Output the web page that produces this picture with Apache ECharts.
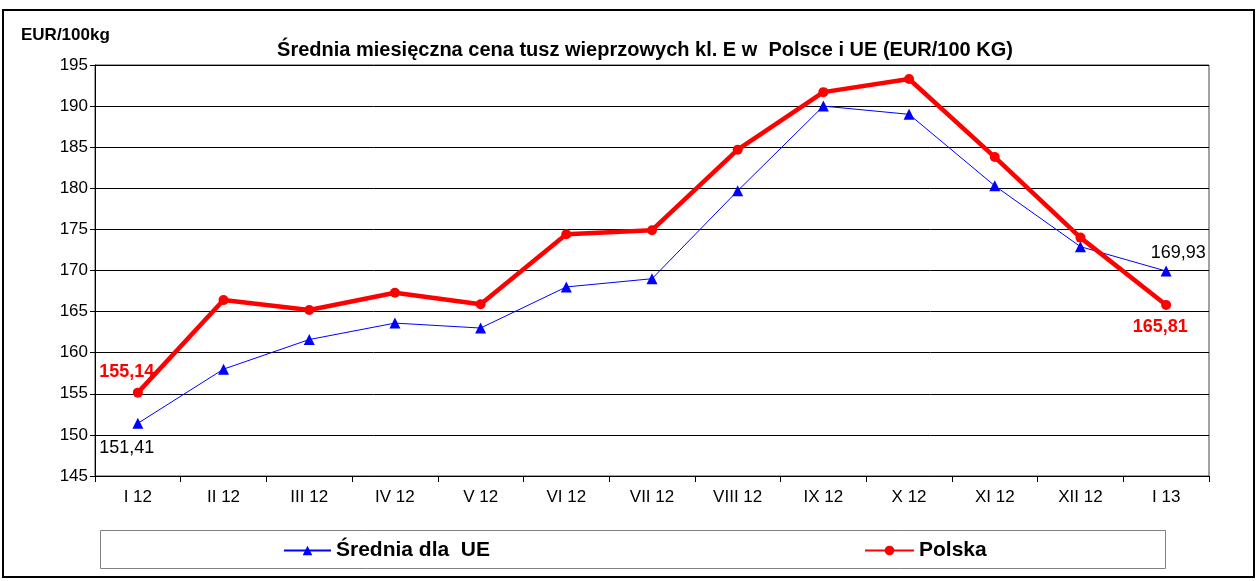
<!DOCTYPE html>
<html>
<head>
<meta charset="utf-8">
<script src="https://cdn.jsdelivr.net/npm/echarts@6/dist/echarts.min.js"></script>
<style>
  html, body { margin: 0; padding: 0; background: #fff; }
  #chart { width: 1258px; height: 581px; }
</style>
</head>
<body>
<div id="chart"></div>
<script>
const categories = ['I 12', 'II 12', 'III 12', 'IV 12', 'V 12', 'VI 12', 'VII 12', 'VIII 12', 'IX 12', 'X 12', 'XI 12', 'XII 12', 'I 13'];
const ueValues = [151.41, 158.0, 161.6, 163.6, 163.0, 168.0, 169.0, 179.7, 190.0, 189.0, 180.3, 172.9, 169.93];
const plValues = [155.14, 166.4, 165.2, 167.3, 165.9, 174.4, 174.9, 184.7, 191.7, 193.3, 183.8, 174.0, 165.81];
const yTicks = { min: 145, max: 195, interval: 5 };
const ueName = 'Średnia dla  UE';
const plName = 'Polska';
const titleText = 'Średnia miesięczna cena tusz wieprzowych kl. E w  Polsce i UE (EUR/100 KG)';
const unitText = 'EUR/100kg';

const FONT = 'Arial, "Liberation Sans", sans-serif';
const fmt = v => v.toFixed(2).replace('.', ',');
const last = categories.length - 1;

function withLabels(values, firstLabel, lastLabel) {
  return values.map((v, i) => {
    if (i === 0) return { value: v, label: firstLabel };
    if (i === last) return { value: v, label: lastLabel };
    return v;
  });
}

const ueLabelBase = { show: true, color: '#000', fontSize: 18, fontFamily: FONT, formatter: p => fmt(p.value) };
const plLabelBase = { show: true, color: '#ff0000', fontSize: 18, fontWeight: 'bold', fontFamily: FONT, formatter: p => fmt(p.value) };

const chart = echarts.init(document.getElementById('chart'), null, { renderer: 'canvas' });
chart.setOption({
  backgroundColor: '#fff',
  animation: false,
  title: {
    text: titleText,
    left: 640, top: 35, textAlign: 'center',
    textStyle: { fontSize: 20, fontWeight: 'bold', color: '#000', fontFamily: FONT }
  },
  graphic: [
    { type: 'rect', shape: { x: 3, y: 10, width: 1251, height: 567 }, style: { fill: 'none', stroke: '#000', lineWidth: 2 }, z: -1 },
    { type: 'rect', shape: { x: 100.5, y: 530.5, width: 1065, height: 38 }, style: { fill: 'none', stroke: '#808080', lineWidth: 1 }, z: -1 },
    { type: 'text', left: 21, top: 27, style: { text: unitText, font: 'bold 17px ' + FONT, fill: '#000' } }
  ],
  legend: [
    { data: [ueName], left: 283, top: 540, padding: 0, itemWidth: 47, itemHeight: 12, itemGap: 5,
      textStyle: { fontSize: 21, fontWeight: 'bold', color: '#000', fontFamily: FONT } },
    { data: [plName], left: 864, top: 540, padding: 0, itemWidth: 49, itemHeight: 12, itemGap: 5,
      textStyle: { fontSize: 21, fontWeight: 'bold', color: '#000', fontFamily: FONT } }
  ],
  grid: { left: 95, top: 65, right: 49, bottom: 105, show: true, borderColor: '#444', borderWidth: 1 },
  xAxis: {
    type: 'category', data: categories, boundaryGap: true,
    axisLine: { lineStyle: { color: '#000', width: 1 } },
    axisTick: { show: true, length: 6, lineStyle: { color: '#000' } },
    axisLabel: { color: '#000', fontSize: 17, fontFamily: FONT, margin: 13 },
    splitLine: { show: false }
  },
  yAxis: {
    type: 'value', min: yTicks.min, max: yTicks.max, interval: yTicks.interval,
    axisLine: { show: true, lineStyle: { color: '#000', width: 1 } },
    axisTick: { show: true, length: 5, lineStyle: { color: '#000' } },
    axisLabel: { color: '#000', fontSize: 17, fontFamily: FONT, margin: 7 },
    splitLine: { show: true, lineStyle: { color: '#000', width: 1 } }
  },
  series: [
    {
      name: ueName, type: 'line',
      data: withLabels(ueValues,
        Object.assign({}, ueLabelBase, { position: 'bottom', distance: 10, offset: [-11, 0] }),
        Object.assign({}, ueLabelBase, { position: 'top', distance: 4, offset: [12, 0] })),
      symbol: 'triangle', symbolSize: 11,
      lineStyle: { color: '#0000ff', width: 1 },
      itemStyle: { color: '#0000ff' },
      z: 2
    },
    {
      name: plName, type: 'line',
      data: withLabels(plValues,
        Object.assign({}, plLabelBase, { position: 'top', distance: 7, offset: [-11, 0] }),
        Object.assign({}, plLabelBase, { position: 'bottom', distance: 8, offset: [-6, 0] })),
      symbol: 'circle', symbolSize: 10,
      lineStyle: { color: '#ff0000', width: 4.5 },
      itemStyle: { color: '#ff0000' },
      z: 3
    }
  ]
});
</script>
</body>
</html>
